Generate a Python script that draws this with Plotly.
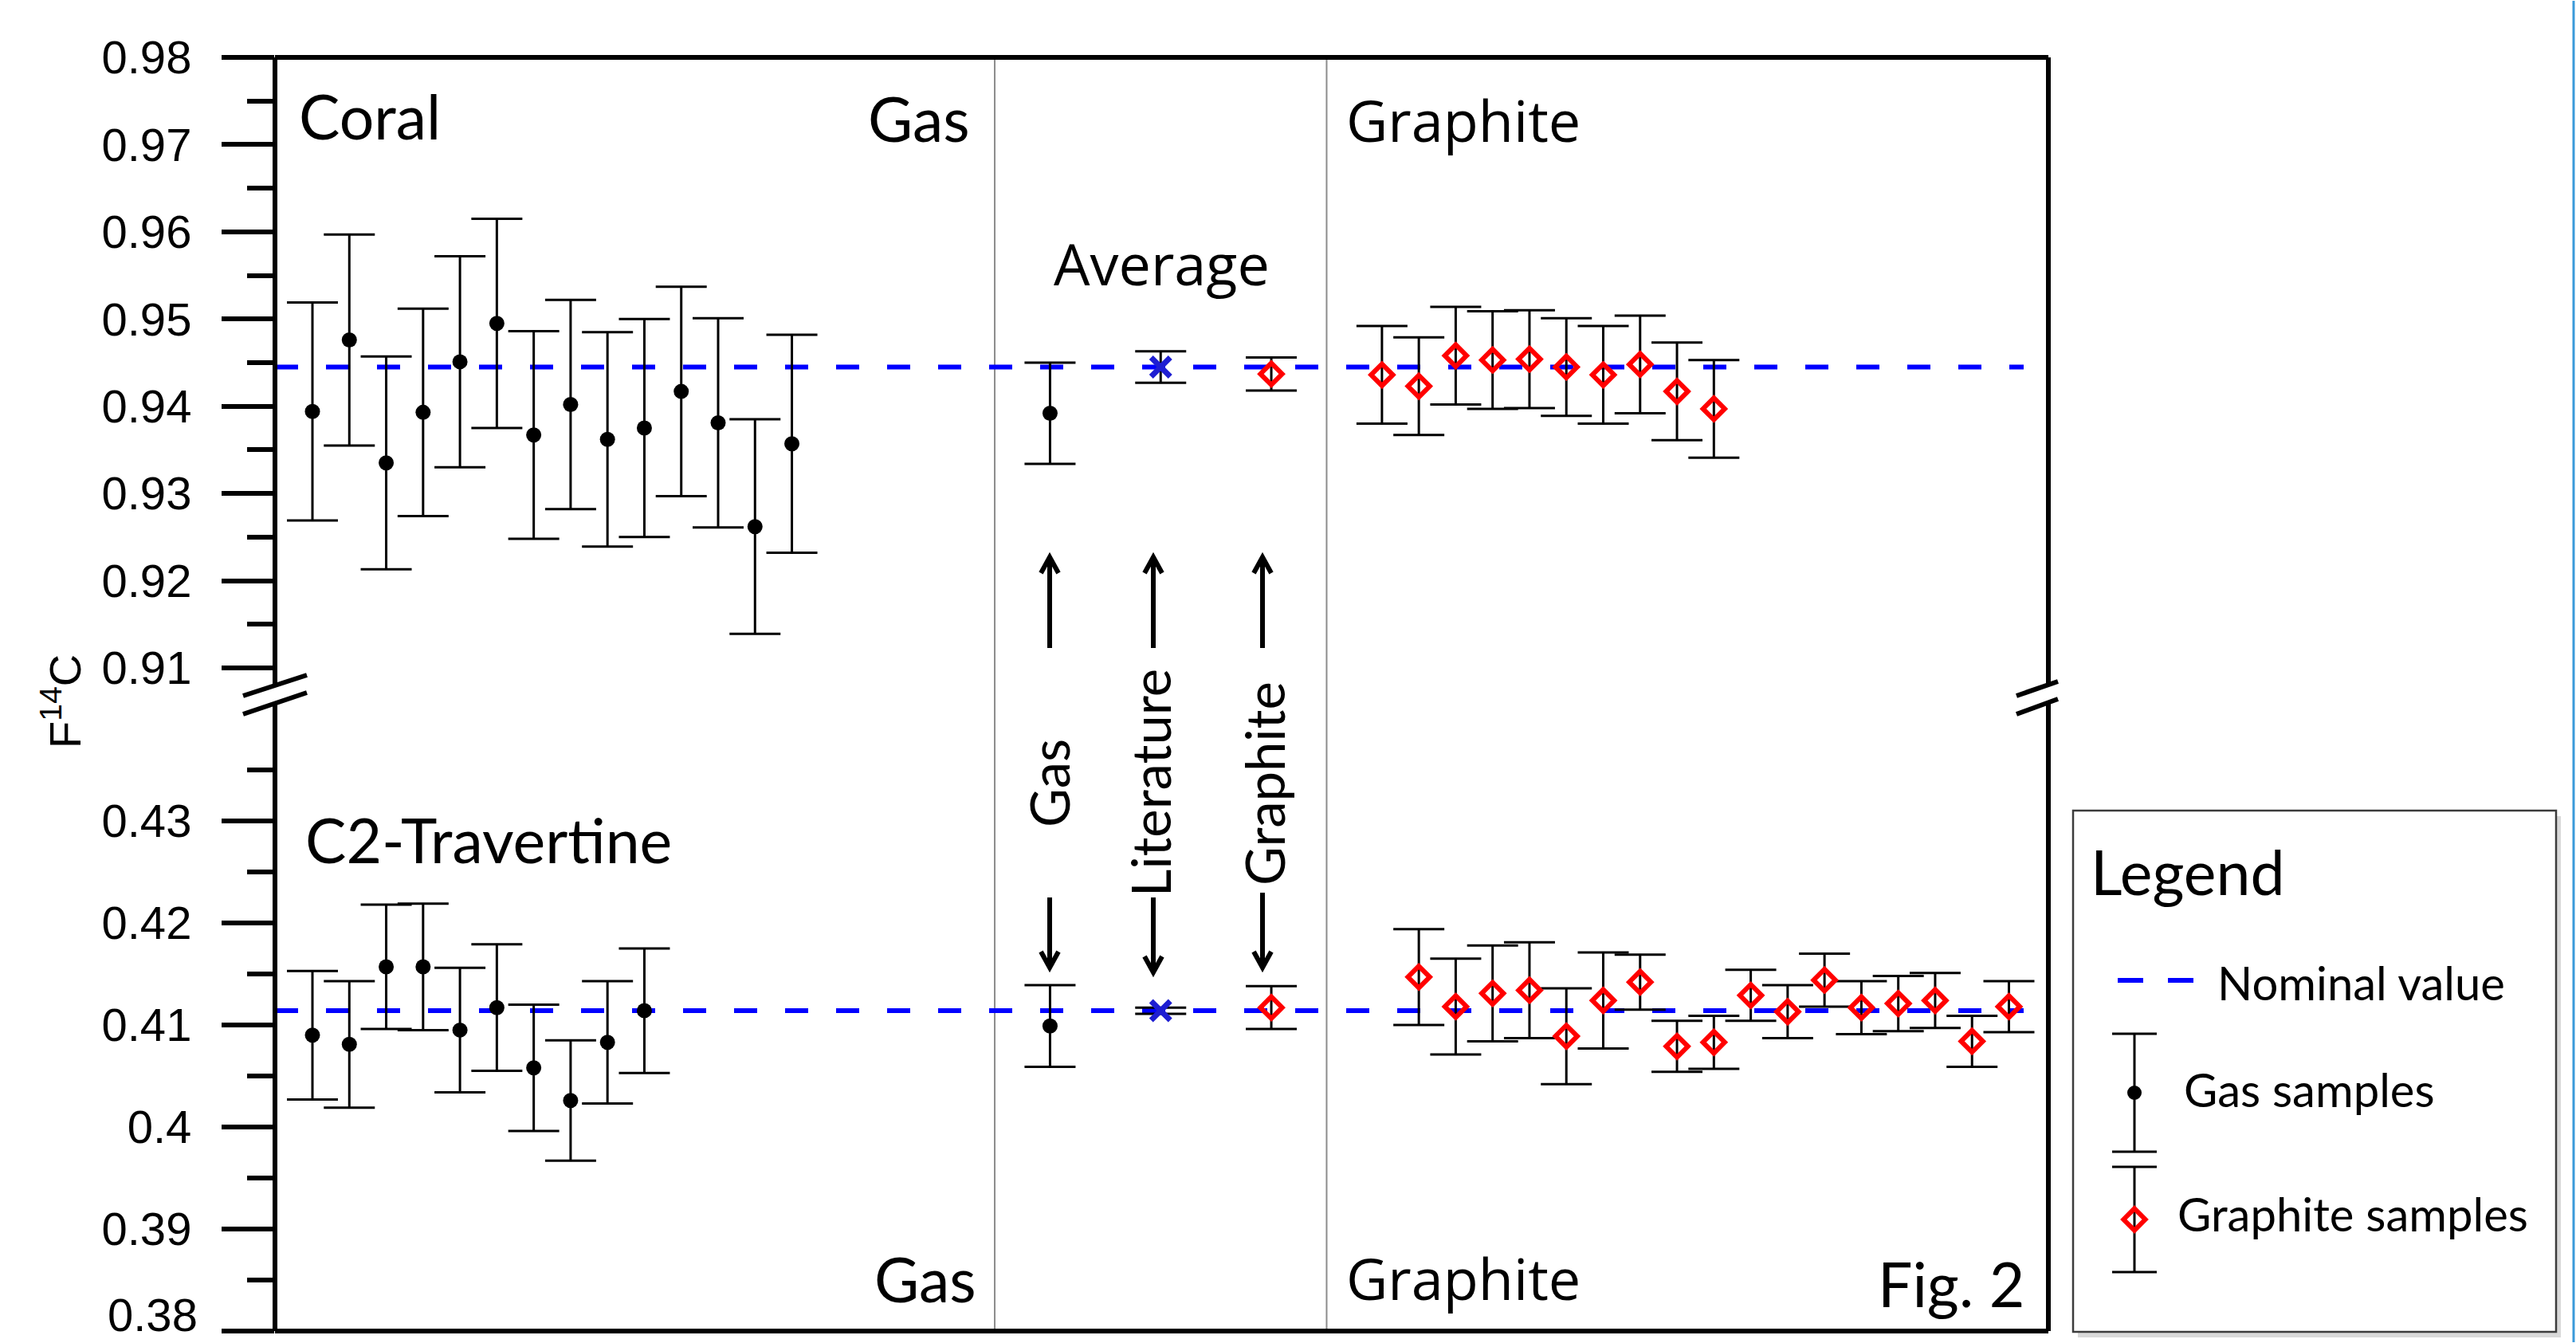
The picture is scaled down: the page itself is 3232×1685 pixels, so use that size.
import plotly.graph_objects as go

# ---------------- data ----------------
coral_gas_f14c = [0.9394, 0.9476, 0.9335, 0.9393, 0.9451, 0.9495, 0.9367,
                  0.9402, 0.9362, 0.9375, 0.9417, 0.9381, 0.9262, 0.9357]
coral_gas_err = [0.0125, 0.0121, 0.0122, 0.0119, 0.0121, 0.0120, 0.0119,
                 0.0120, 0.0123, 0.0125, 0.0120, 0.0120, 0.0123, 0.0125]

trav_gas_f14c = [0.4090, 0.4081, 0.4157, 0.4157, 0.4095, 0.4117, 0.4058,
                 0.4026, 0.4083, 0.4114]
trav_gas_err = [0.0063, 0.0062, 0.0061, 0.0062, 0.0061, 0.0062, 0.0062,
                0.0059, 0.0060, 0.0061]

avg_methods = ["Gas", "Literature", "Graphite"]
coral_avg_f14c = [0.9392, 0.9445, 0.9437]
coral_avg_err = [0.0058, 0.0018, 0.0019]
trav_avg_f14c = [0.4099, 0.4114, 0.4117]
trav_avg_err = [0.0040, 0.0003, 0.0021]

coral_graphite_f14c = [0.9436, 0.9423, 0.9458, 0.9453, 0.9454, 0.9445,
                       0.9436, 0.9448, 0.9417, 0.9397]
coral_graphite_err = [0.0056, 0.0056, 0.0056, 0.0056, 0.0056, 0.0056,
                      0.0056, 0.0056, 0.0056, 0.0056]

trav_graphite_f14c = [0.4147, 0.4118, 0.4131, 0.4134, 0.4089, 0.4124, 0.4142,
                      0.4079, 0.4083, 0.4129, 0.4113, 0.4144, 0.4117, 0.4121,
                      0.4124, 0.4084, 0.4118]
trav_graphite_err = [0.0047, 0.0047, 0.0047, 0.0047, 0.0047, 0.0047, 0.0027,
                     0.0025, 0.0026, 0.0025, 0.0026, 0.0026, 0.0026, 0.0027,
                     0.0027, 0.0025, 0.0025]

nominal_coral = 0.9445
nominal_trav = 0.4114

upper_ticks = [0.91, 0.92, 0.93, 0.94, 0.95, 0.96, 0.97, 0.98]
upper_minor = [0.915, 0.925, 0.935, 0.945, 0.955, 0.965, 0.975]
lower_ticks = [0.38, 0.39, 0.40, 0.41, 0.42, 0.43]
lower_minor = [0.385, 0.395, 0.405, 0.415, 0.425, 0.435]
upper_ticktext = ["0.91", "0.92", "0.93", "0.94", "0.95", "0.96", "0.97", "0.98"]
lower_ticktext = ["0.38", "0.39", "0.4", "0.41", "0.42", "0.43"]

# ---------------- layout geometry (pixels) ----------------
W, H = 3232, 1685
ML, MR, MT, MB = 345, 15, 72, 15
PW = W - ML - MR
PH = H - MT - MB


def px(x):
    return (x - ML) / PW


def py(y):
    return (MT + PH - y) / PH


XD = px(2570)                      # right end of main plotting frame
XRANGE = [-1.016, 47.07]           # slot units
gas_start, avg_slots, coral_gr_start, trav_gr_start = 0, [20, 23, 26], 29, 30
dividers = [18.5, 27.5]
NOM_END = 46.4

coral_gas_x = [gas_start + i for i in range(len(coral_gas_f14c))]
trav_gas_x = [gas_start + i for i in range(len(trav_gas_f14c))]
coral_gr_x = [coral_gr_start + i for i in range(len(coral_graphite_f14c))]
trav_gr_x = [trav_gr_start + i for i in range(len(trav_graphite_f14c))]

BLUE = "#0000ff"
RED = "#ff0000"
err_style = dict(type="data", color="black", thickness=3, width=32, visible=True)

gas_marker = dict(symbol="circle", size=19, color="black", line=dict(width=0))
gr_marker = dict(symbol="diamond-open", size=21, color=RED, line=dict(width=6, color=RED))
lit_marker = dict(symbol="x-thin", size=24, color="#1e1ed2", line=dict(width=7, color="#1e1ed2"))

fig = go.Figure()

nom_line = dict(color=BLUE, width=6, dash="29px,35px")
fig.add_trace(go.Scatter(x=[XRANGE[0], NOM_END], y=[nominal_coral, nominal_coral],
                         mode="lines", line=nom_line, xaxis="x", yaxis="y",
                         name="Nominal value", showlegend=False, hoverinfo="skip"))
fig.add_trace(go.Scatter(x=[XRANGE[0], NOM_END], y=[nominal_trav, nominal_trav],
                         mode="lines", line=nom_line, xaxis="x", yaxis="y2",
                         name="Nominal value", showlegend=False, hoverinfo="skip"))


def add_pts(x, y, e, marker, yax, name):
    fig.add_trace(go.Scatter(x=x, y=y, mode="markers", marker=marker,
                             error_y=dict(array=e, **err_style),
                             xaxis="x", yaxis=yax, name=name, showlegend=False))


add_pts(coral_gas_x, coral_gas_f14c, coral_gas_err, gas_marker, "y", "Coral gas")
add_pts(trav_gas_x, trav_gas_f14c, trav_gas_err, gas_marker, "y2", "C2 gas")
add_pts(coral_gr_x, coral_graphite_f14c, coral_graphite_err, gr_marker, "y", "Coral graphite")
add_pts(trav_gr_x, trav_graphite_f14c, trav_graphite_err, gr_marker, "y2", "C2 graphite")

avg_markers = [gas_marker, lit_marker, gr_marker]
for i, m in enumerate(avg_methods):
    add_pts([avg_slots[i]], [coral_avg_f14c[i]], [coral_avg_err[i]], avg_markers[i], "y",
            "Coral average " + m)
    add_pts([avg_slots[i]], [trav_avg_f14c[i]], [trav_avg_err[i]], avg_markers[i], "y2",
            "C2 average " + m)

# ---- legend icons on an auxiliary pixel axis ----
fig.add_trace(go.Scatter(x=[2657, 2752], y=[1230, 1230], mode="lines",
                         line=dict(color=BLUE, width=6, dash="32px,31px"),
                         xaxis="x3", yaxis="y3", showlegend=False, hoverinfo="skip"))
fig.add_trace(go.Scatter(x=[2678], y=[1371], mode="markers",
                         marker=dict(symbol="circle", size=18, color="black"),
                         error_y=dict(type="data", array=[74], color="black", thickness=3, width=28),
                         xaxis="x3", yaxis="y3", showlegend=False, hoverinfo="skip"))
fig.add_trace(go.Scatter(x=[2678], y=[1530], mode="markers",
                         marker=dict(symbol="diamond-open", size=21, color=RED,
                                     line=dict(width=6, color=RED)),
                         error_y=dict(type="data", array=[66], color="black", thickness=3, width=28),
                         xaxis="x3", yaxis="y3", showlegend=False, hoverinfo="skip"))

tickfont = dict(family="Liberation Sans, Arial", size=58, color="black")
yax_common = dict(ticks="outside", ticklen=66, tickwidth=6, tickcolor="black",
                  showgrid=False, zeroline=False, showline=False, tickfont=tickfont,
                  tickmode="array", ticklabelstandoff=26,
                  anchor="x", fixedrange=True)

fig.update_layout(
    width=W, height=H, margin=dict(l=ML, r=MR, t=MT, b=MB, pad=0),
    paper_bgcolor="white", plot_bgcolor="rgba(0,0,0,0)", showlegend=False,
    xaxis=dict(domain=[0, XD], range=XRANGE, visible=False, anchor="y2", fixedrange=True),
    yaxis=dict(domain=[0.5, 1.0], range=[0.90698, 0.980002], tickvals=upper_ticks,
               ticktext=upper_ticktext,
               minor=dict(tickvals=upper_minor, ticks="outside", ticklen=34, tickwidth=6,
                          tickcolor="black", showgrid=False),
               **yax_common),
    yaxis2=dict(domain=[0.0, 0.5], range=[0.379998, 0.44242], tickvals=lower_ticks,
                ticktext=lower_ticktext,
                minor=dict(tickvals=lower_minor, ticks="outside", ticklen=34, tickwidth=6,
                           tickcolor="black", showgrid=False),
                **yax_common),
    xaxis3=dict(domain=[0, 1], range=[ML, W - MR], visible=False, anchor="y3", fixedrange=True),
    yaxis3=dict(domain=[0, 1], range=[MT + PH, MT], visible=False, anchor="x3", fixedrange=True),
)

shapes = []
# thin grey dividers
for d in dividers:
    shapes.append(dict(type="line", xref="x", yref="paper", x0=d, x1=d, y0=0, y1=1,
                       line=dict(color="#8c8c8c", width=2), layer="below"))

frame = dict(color="black", width=6)


def seg(x0, y0, x1, y1, line=frame):
    shapes.append(dict(type="line", xref="paper", yref="paper",
                       x0=px(x0), y0=py(y0), x1=px(x1), y1=py(y1), line=line, layer="above"))


seg(345, 72, 2570, 72)          # top
seg(345, 1670, 2570, 1670)      # bottom
seg(345, 72, 345, 860)          # left upper
seg(345, 883, 345, 1670)        # left lower
seg(2570, 72, 2570, 859)        # right upper
seg(2570, 881, 2570, 1670)      # right lower
# axis-break slashes
seg(305, 873, 385, 847)
seg(305, 896, 385, 869)
seg(2530, 873, 2582, 855)
seg(2530, 896, 2582, 877)

# arrows: (x, tail y, head y)
arrow_line = dict(color="black", width=6)
arrow_defs = [(1317, 813, 699), (1447, 813, 699), (1584, 813, 699),
              (1317, 1126, 1214), (1447, 1126, 1220), (1584, 1120, 1214)]
for (ax_, ty, hy) in arrow_defs:
    seg(ax_, ty, ax_, hy, arrow_line)
    d = 20 if ty > hy else -20
    shapes.append(dict(type="path", xref="paper", yref="paper", layer="above",
                       path="M %f,%f L %f,%f L %f,%f" % (px(ax_ - 11), py(hy + d), px(ax_), py(hy),
                                                        px(ax_ + 11), py(hy + d)),
                       line=arrow_line))

# legend box (shadow + box)
shapes.append(dict(type="rect", xref="paper", yref="paper", x0=px(2607), x1=px(3213),
                   y0=py(1678), y1=py(1024), line=dict(width=0), fillcolor="#d9d9d9",
                   layer="below"))
shapes.append(dict(type="rect", xref="paper", yref="paper", x0=px(2601), x1=px(3207),
                   y0=py(1671), y1=py(1017), line=dict(color="#3c3c3c", width=2.5),
                   fillcolor="white", layer="below"))
# right edge line of the original screenshot
shapes.append(dict(type="line", xref="paper", yref="paper", x0=px(3229), x1=px(3229),
                   y0=py(1684), y1=py(1), line=dict(color="#3b9ad9", width=3), layer="above"))
fig.update_layout(shapes=shapes)

ann = []
CAL = "Lato, Carlito, Calibri, sans-serif"
WIDE = "Open Sans, Noto Sans, sans-serif"


def text(t, x, y, size, family=CAL, xanchor="left", angle=0, yanchor="middle"):
    ann.append(dict(text=t, xref="paper", yref="paper", x=px(x), y=py(y), xanchor=xanchor,
                    yanchor=yanchor, showarrow=False, textangle=angle,
                    font=dict(family=family, size=size, color="black")))


text("Coral", 373, 145, 77)
text("Gas", 1219, 148, 77, xanchor="right")
text("Graphite", 1687, 150, 72, family=WIDE)
text("Average", 1457, 330, 72, family=WIDE, xanchor="center")
text("C2-Travertine", 381, 1053, 77)
text("Gas", 1227, 1604, 77, xanchor="right")
text("Graphite", 1687, 1603, 72, family=WIDE)
text("Fig. 2", 2542, 1610, 77, xanchor="right")
text("Gas", 1316, 983, 67, xanchor="center", angle=-90)
text("Literature", 1443, 982, 67, xanchor="center", angle=-90)
text("Graphite", 1586, 983, 67, xanchor="center", angle=-90)
# legend texts
text("Legend", 2621, 1093, 77)
text("Nominal value", 2780, 1232, 58)
text("Gas samples", 2738, 1366, 58)
text("Graphite samples", 2730, 1522, 58)
# bottom tick label (sits at the page edge, so drawn as a label that stays inside the page)
text(lower_ticktext[0], 250, 1684, 58, family="Liberation Sans, Arial", xanchor="right",
     yanchor="bottom")
# y-axis title
ann.append(dict(text="F<sup>14</sup>C", xref="paper", yref="paper", x=px(77), y=py(880),
                xanchor="center", yanchor="middle", showarrow=False, textangle=-90,
                font=dict(family="Liberation Sans, Arial", size=56, color="black")))

fig.update_layout(annotations=ann)

fig.write_html("out.html", include_plotlyjs=True, full_html=True,
               config={"displayModeBar": False, "staticPlot": True},
               post_script="document.body.style.margin='0';document.body.style.overflow='hidden';")
